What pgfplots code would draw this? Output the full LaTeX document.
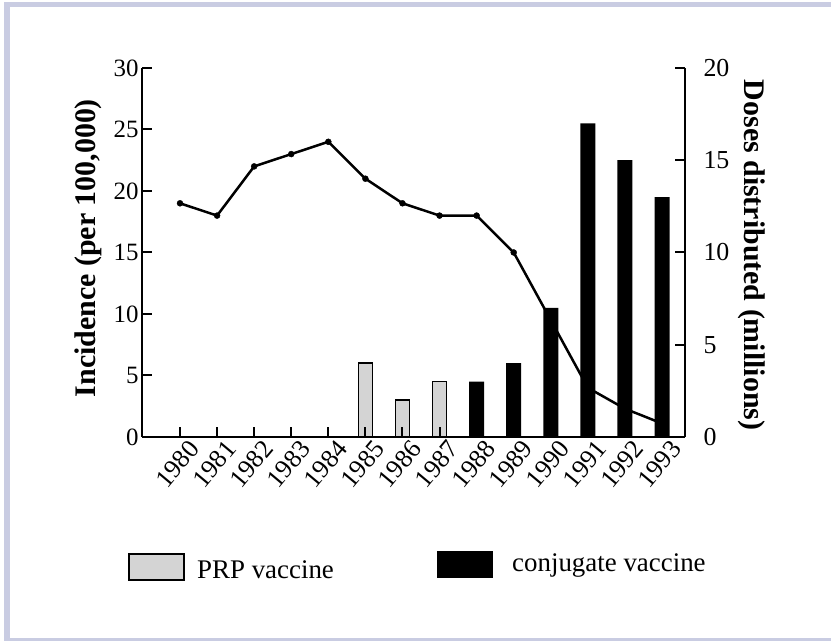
\documentclass[border=0pt]{standalone}
\usepackage{pgfplots}
\pgfplotsset{compat=1.18}
\usepackage{fontspec}
\setmainfont{Liberation Serif}
\definecolor{framec}{HTML}{C9CCE2}
\definecolor{prp}{HTML}{D4D4D4}
\begin{document}
\begin{tikzpicture}[x=1bp,y=1bp]
\path[use as bounding box] (0,0) rectangle (831,641);
\fill[framec] (4,0) rectangle (10,639);
\fill[framec] (4,634) rectangle (831,639);
\fill[framec] (4,0) rectangle (831,3);
% bars (right axis)
\begin{axis}[at={(142bp,204bp)}, anchor=south west, scale only axis,
  width=543bp, height=369bp,
  xmin=-1.025, xmax=13.62, ymin=0, ymax=20,
  axis x line=none, axis y line*=right,
  axis line style={-, line width=2.5bp},
  ytick={0,5,10,15,20},
  tick style={line width=2bp, black}, major tick length=10bp, tick align=inside,
  /pgf/number format/assume math mode=true,
  yticklabel style={font=\fontsize{26}{26}\selectfont, xshift=15bp},
  ylabel={\textbf{Doses distributed (millions)}},
  ylabel style={font=\fontsize{30}{30}\selectfont, at={(axis description cs:1.1234,0.493)}, anchor=center, rotate=180},
  clip=false]
\addplot[ybar, bar width=14bp, bar shift=0pt, draw=black, line width=1.5bp, fill=prp]
  coordinates {(5,4) (6,2) (7,3)};
\addplot[ybar, bar width=15bp, bar shift=0pt, draw=none, fill=black]
  coordinates {(8,3) (9,4) (10,7) (11,17) (12,15) (13,13)};
\end{axis}
% line (left axis)
\begin{axis}[at={(142bp,204bp)}, anchor=south west, scale only axis,
  width=543bp, height=369bp,
  xmin=-1.025, xmax=13.62, ymin=0, ymax=30,
  axis x line*=bottom, axis y line*=left,
  axis line style={-, line width=2.5bp},
  xtick={0,...,13},
  xticklabels={1980,1981,1982,1983,1984,1985,1986,1987,1988,1989,1990,1991,1992,1993},
  ytick={0,5,10,15,20,25,30},
  tick style={line width=2bp, black}, major tick length=10bp, tick align=inside,
  /pgf/number format/assume math mode=true,
  yticklabel style={font=\fontsize{25}{25}\selectfont},
  xticklabel style={font=\fontsize{26}{26}\selectfont, rotate=50, anchor=north east, xshift=7bp, yshift=-3bp},
  ylabel={\textbf{Incidence (per 100,000)}},
  ylabel style={font=\fontsize{30}{30}\selectfont, at={(axis description cs:-0.0994,0.512)}, anchor=center},
  clip=false]
\addplot[black, line width=2.5bp, mark=none]
  coordinates {(0,19) (1,18) (2,22) (3,23) (4,24) (5,21) (6,19) (7,18) (8,18) (9,15) (10,9.5) (11,4) (12,2.3) (13,1.1)};
\addplot[only marks, mark=*, mark size=3bp, black]
  coordinates {(0,19) (1,18) (2,22) (3,23) (4,24) (5,21) (6,19) (7,18) (8,18) (9,15)};
\end{axis}
% legend
\draw[line width=2.5bp, fill=prp] (129,61) rectangle (184,87);
\node[anchor=west, font=\fontsize{27}{27}\selectfont, inner sep=0pt] at (197,71) {PRP vaccine};
\fill[black] (437,63) rectangle (493,90);
\node[anchor=west, font=\fontsize{27}{27}\selectfont, inner sep=0pt] at (512,75) {conjugate vaccine};
\end{tikzpicture}
\end{document}
